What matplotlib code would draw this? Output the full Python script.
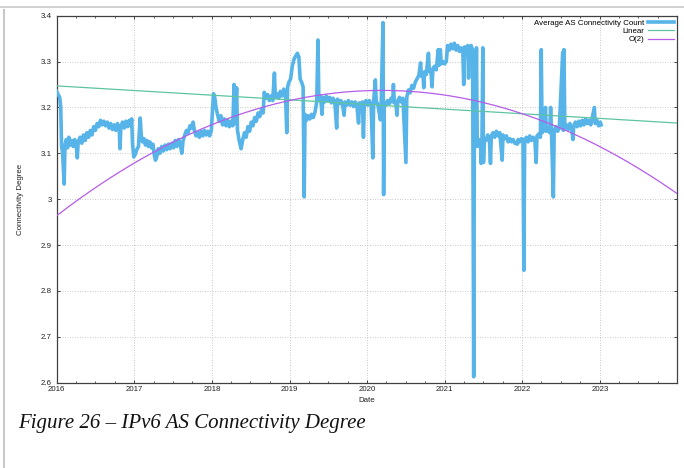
# IPv6 AS connectivity degree, gnuplot-style time series with linear and quadratic fits
import datetime as dt

import matplotlib
matplotlib.use("Agg")
import matplotlib.pyplot as plt
import matplotlib.dates as mdates
from matplotlib.lines import Line2D
from matplotlib.ticker import FuncFormatter, MultipleLocator
import numpy as np

plt.rcParams['font.family'] = ['Liberation Sans', 'DejaVu Sans']

# Average AS connectivity count (date, value), one list per year
y2016 = [("2016-01-01", 3.235), ("2016-01-08", 3.228), ("2016-01-15", 3.222), ("2016-01-20", 3.200),
         ("2016-01-24", 3.115), ("2016-01-29", 3.100), ("2016-02-05", 3.033), ("2016-02-09", 3.118),
         ("2016-02-15", 3.130), ("2016-02-21", 3.112), ("2016-02-27", 3.135), ("2016-03-05", 3.118),
         ("2016-03-12", 3.128), ("2016-03-19", 3.115), ("2016-03-26", 3.130), ("2016-04-03", 3.112),
         ("2016-04-07", 3.090), ("2016-04-11", 3.125), ("2016-04-20", 3.135), ("2016-04-28", 3.122),
         ("2016-05-06", 3.140), ("2016-05-14", 3.128), ("2016-05-22", 3.145), ("2016-05-30", 3.135),
         ("2016-06-07", 3.150), ("2016-06-15", 3.140), ("2016-06-23", 3.158), ("2016-07-01", 3.150),
         ("2016-07-09", 3.165), ("2016-07-17", 3.158), ("2016-07-25", 3.172), ("2016-08-02", 3.162),
         ("2016-08-10", 3.170), ("2016-08-18", 3.160), ("2016-08-26", 3.168), ("2016-09-03", 3.155),
         ("2016-09-11", 3.165), ("2016-09-19", 3.152), ("2016-09-27", 3.162), ("2016-10-05", 3.150),
         ("2016-10-13", 3.165), ("2016-10-21", 3.155), ("2016-10-25", 3.110), ("2016-10-29", 3.158),
         ("2016-11-06", 3.168), ("2016-11-14", 3.155), ("2016-11-22", 3.170), ("2016-11-30", 3.158),
         ("2016-12-08", 3.172), ("2016-12-15", 3.160), ("2016-12-19", 3.175), ("2016-12-23", 3.120),
         ("2016-12-29", 3.092)]

y2017 = [("2017-01-05", 3.098), ("2017-01-12", 3.108), ("2017-01-20", 3.115), ("2017-01-28", 3.177),
         ("2017-02-02", 3.140), ("2017-02-08", 3.125), ("2017-02-15", 3.132), ("2017-02-22", 3.118),
         ("2017-03-01", 3.128), ("2017-03-08", 3.115), ("2017-03-15", 3.125), ("2017-03-22", 3.112),
         ("2017-03-29", 3.120), ("2017-04-05", 3.095), ("2017-04-10", 3.085), ("2017-04-16", 3.092),
         ("2017-04-23", 3.110), ("2017-05-01", 3.100), ("2017-05-09", 3.115), ("2017-05-17", 3.105),
         ("2017-05-25", 3.118), ("2017-06-02", 3.108), ("2017-06-10", 3.120), ("2017-06-18", 3.110),
         ("2017-06-26", 3.122), ("2017-07-04", 3.112), ("2017-07-12", 3.128), ("2017-07-20", 3.115),
         ("2017-07-28", 3.130), ("2017-08-05", 3.120), ("2017-08-12", 3.100), ("2017-08-18", 3.128),
         ("2017-08-26", 3.140), ("2017-09-03", 3.150), ("2017-09-11", 3.145), ("2017-09-19", 3.160),
         ("2017-09-27", 3.155), ("2017-10-04", 3.168), ("2017-10-10", 3.150), ("2017-10-18", 3.138),
         ("2017-10-26", 3.145), ("2017-11-03", 3.135), ("2017-11-11", 3.148), ("2017-11-19", 3.138),
         ("2017-11-27", 3.150), ("2017-12-05", 3.140), ("2017-12-13", 3.148), ("2017-12-21", 3.138),
         ("2017-12-29", 3.150)]

y2018 = [("2018-01-08", 3.230), ("2018-01-14", 3.222), ("2018-01-20", 3.200), ("2018-01-27", 3.185),
         ("2018-02-04", 3.170), ("2018-02-12", 3.182), ("2018-02-20", 3.162), ("2018-02-28", 3.175),
         ("2018-03-08", 3.160), ("2018-03-16", 3.172), ("2018-03-24", 3.158), ("2018-04-01", 3.170),
         ("2018-04-09", 3.160), ("2018-04-15", 3.250), ("2018-04-19", 3.165), ("2018-04-27", 3.243),
         ("2018-05-01", 3.150), ("2018-05-09", 3.128), ("2018-05-18", 3.110), ("2018-05-26", 3.130),
         ("2018-06-03", 3.145), ("2018-06-11", 3.135), ("2018-06-19", 3.158), ("2018-06-27", 3.148),
         ("2018-07-05", 3.168), ("2018-07-13", 3.160), ("2018-07-21", 3.178), ("2018-07-29", 3.170),
         ("2018-08-06", 3.188), ("2018-08-14", 3.180), ("2018-08-22", 3.195), ("2018-08-30", 3.188),
         ("2018-09-04", 3.233), ("2018-09-12", 3.220), ("2018-09-20", 3.228), ("2018-09-28", 3.215),
         ("2018-10-06", 3.225), ("2018-10-14", 3.215), ("2018-10-22", 3.275), ("2018-10-26", 3.222),
         ("2018-11-03", 3.230), ("2018-11-11", 3.220), ("2018-11-19", 3.235), ("2018-11-27", 3.225),
         ("2018-12-05", 3.240), ("2018-12-13", 3.232), ("2018-12-19", 3.145), ("2018-12-23", 3.245),
         ("2018-12-29", 3.255)]

y2019 = [("2019-01-06", 3.262), ("2019-01-14", 3.290), ("2019-01-22", 3.305), ("2019-01-30", 3.312),
         ("2019-02-07", 3.318), ("2019-02-14", 3.310), ("2019-02-20", 3.262), ("2019-02-27", 3.255),
         ("2019-03-06", 3.245), ("2019-03-11", 3.005), ("2019-03-15", 3.185), ("2019-03-22", 3.172),
         ("2019-03-30", 3.182), ("2019-04-07", 3.175), ("2019-04-15", 3.185), ("2019-04-23", 3.178),
         ("2019-05-01", 3.190), ("2019-05-09", 3.212), ("2019-05-15", 3.347), ("2019-05-19", 3.218),
         ("2019-05-27", 3.225), ("2019-06-03", 3.185), ("2019-06-07", 3.222), ("2019-06-15", 3.212),
         ("2019-06-23", 3.225), ("2019-07-01", 3.215), ("2019-07-09", 3.222), ("2019-07-17", 3.210),
         ("2019-07-25", 3.220), ("2019-08-02", 3.212), ("2019-08-11", 3.155), ("2019-08-15", 3.218),
         ("2019-08-23", 3.208), ("2019-08-31", 3.215), ("2019-09-08", 3.205), ("2019-09-15", 3.183),
         ("2019-09-19", 3.212), ("2019-09-27", 3.205), ("2019-10-05", 3.215), ("2019-10-13", 3.205),
         ("2019-10-21", 3.212), ("2019-10-29", 3.202), ("2019-11-06", 3.212), ("2019-11-14", 3.205),
         ("2019-11-22", 3.166), ("2019-11-26", 3.210), ("2019-12-04", 3.202), ("2019-12-10", 3.212),
         ("2019-12-15", 3.135), ("2019-12-19", 3.208), ("2019-12-27", 3.215)]

y2020 = [("2020-01-04", 3.205), ("2020-01-12", 3.215), ("2020-01-20", 3.205), ("2020-01-28", 3.090),
         ("2020-02-01", 3.212), ("2020-02-09", 3.260), ("2020-02-13", 3.215), ("2020-02-21", 3.205),
         ("2020-03-04", 3.173), ("2020-03-08", 3.218), ("2020-03-16", 3.385), ("2020-03-19", 3.010),
         ("2020-03-22", 3.212), ("2020-03-30", 3.205), ("2020-04-07", 3.215), ("2020-04-15", 3.208),
         ("2020-04-23", 3.220), ("2020-05-01", 3.212), ("2020-05-04", 3.250), ("2020-05-08", 3.215),
         ("2020-05-16", 3.205), ("2020-05-21", 3.183), ("2020-05-25", 3.215), ("2020-06-02", 3.222),
         ("2020-06-10", 3.212), ("2020-06-18", 3.220), ("2020-07-02", 3.080), ("2020-07-06", 3.222),
         ("2020-07-14", 3.238), ("2020-07-22", 3.232), ("2020-07-30", 3.248), ("2020-08-07", 3.242),
         ("2020-08-15", 3.255), ("2020-08-23", 3.262), ("2020-09-01", 3.270), ("2020-09-09", 3.297),
         ("2020-09-13", 3.268), ("2020-09-20", 3.275), ("2020-09-24", 3.243), ("2020-09-28", 3.278),
         ("2020-10-06", 3.272), ("2020-10-16", 3.318), ("2020-10-20", 3.280), ("2020-10-28", 3.275),
         ("2020-11-02", 3.245), ("2020-11-06", 3.285), ("2020-11-14", 3.290), ("2020-11-22", 3.282),
         ("2020-12-01", 3.326), ("2020-12-05", 3.292), ("2020-12-11", 3.326), ("2020-12-15", 3.295),
         ("2020-12-23", 3.300), ("2020-12-31", 3.295)]

y2021 = [("2021-01-08", 3.300), ("2021-01-14", 3.335), ("2021-01-22", 3.325), ("2021-01-30", 3.338),
         ("2021-02-07", 3.328), ("2021-02-15", 3.340), ("2021-02-23", 3.325), ("2021-03-03", 3.335),
         ("2021-03-11", 3.322), ("2021-03-19", 3.330), ("2021-03-27", 3.320), ("2021-03-31", 3.250),
         ("2021-04-04", 3.332), ("2021-04-12", 3.322), ("2021-04-19", 3.335), ("2021-04-23", 3.264),
         ("2021-04-27", 3.330), ("2021-05-05", 3.335), ("2021-05-12", 3.325), ("2021-05-17", 2.613),
         ("2021-05-20", 3.120), ("2021-05-25", 3.130), ("2021-05-30", 3.330), ("2021-06-03", 3.115),
         ("2021-06-10", 3.130), ("2021-06-18", 3.125), ("2021-06-21", 3.078), ("2021-06-25", 3.128),
         ("2021-06-29", 3.330), ("2021-07-02", 3.080), ("2021-07-06", 3.132), ("2021-07-14", 3.128),
         ("2021-07-22", 3.140), ("2021-07-30", 3.130), ("2021-08-04", 3.078), ("2021-08-08", 3.138),
         ("2021-08-16", 3.145), ("2021-08-24", 3.135), ("2021-09-01", 3.148), ("2021-09-09", 3.138),
         ("2021-09-17", 3.145), ("2021-09-28", 3.085), ("2021-10-02", 3.140), ("2021-10-10", 3.132),
         ("2021-10-18", 3.138), ("2021-10-26", 3.125), ("2021-11-03", 3.132), ("2021-11-11", 3.125),
         ("2021-11-19", 3.130), ("2021-11-27", 3.122), ("2021-12-08", 3.120), ("2021-12-12", 3.130),
         ("2021-12-20", 3.125), ("2021-12-28", 3.132)]

y2022 = [("2022-01-04", 3.130), ("2022-01-08", 2.845), ("2022-01-12", 3.128), ("2022-01-20", 3.135),
         ("2022-01-28", 3.125), ("2022-02-05", 3.138), ("2022-02-13", 3.128), ("2022-02-21", 3.135),
         ("2022-03-01", 3.130), ("2022-03-07", 3.080), ("2022-03-11", 3.138), ("2022-03-19", 3.142),
         ("2022-03-27", 3.135), ("2022-03-31", 3.326), ("2022-04-04", 3.145), ("2022-04-12", 3.150),
         ("2022-04-20", 3.200), ("2022-04-24", 3.148), ("2022-05-02", 3.155), ("2022-05-10", 3.145),
         ("2022-05-14", 3.200), ("2022-05-18", 3.150), ("2022-05-27", 3.005), ("2022-05-31", 3.150),
         ("2022-06-08", 3.158), ("2022-06-16", 3.148), ("2022-06-24", 3.155), ("2022-07-10", 3.320),
         ("2022-07-13", 3.150), ("2022-07-16", 3.326), ("2022-07-20", 3.155), ("2022-07-28", 3.162),
         ("2022-08-05", 3.152), ("2022-08-13", 3.165), ("2022-08-21", 3.155), ("2022-08-27", 3.130),
         ("2022-08-31", 3.160), ("2022-09-08", 3.168), ("2022-09-16", 3.158), ("2022-09-24", 3.170),
         ("2022-10-02", 3.160), ("2022-10-10", 3.172), ("2022-10-18", 3.162), ("2022-10-26", 3.175),
         ("2022-11-03", 3.165), ("2022-11-11", 3.172), ("2022-11-19", 3.162), ("2022-12-06", 3.200),
         ("2022-12-10", 3.165), ("2022-12-18", 3.172), ("2022-12-26", 3.160), ("2023-01-03", 3.168),
         ("2023-01-07", 3.162)]

# fitted curves as drawn on the chart (t = years since 2016-01-01)
linear_coef = [-0.010125, 3.247]
quad_coef = [-0.01554, 0.1303, 2.964]

fit_start = dt.date(2016, 1, 1)
fit_end = dt.date(2024, 1, 1)

# --- build series ---
rows = y2016 + y2017 + y2018 + y2019 + y2020 + y2021 + y2022
dates = [dt.datetime.strptime(d, "%Y-%m-%d") for d, v in rows]
values = [v for d, v in rows]

x0 = mdates.date2num(fit_start)
x1 = mdates.date2num(fit_end)
xf = np.linspace(x0, x1, 300)
tf = (xf - x0) / 365.25

fig = plt.figure(figsize=(6.84, 4.68), dpi=100)
ax = fig.add_axes([56.7 / 684, 1 - 382.7 / 468, (677.3 - 56.7) / 684, (382.7 - 15.7) / 468])

ax.plot(dates, values, color='#56b4e9', lw=2.6, label='Average AS Connectivity Count', zorder=3)
ax.plot(xf, np.polyval(linear_coef, tf), color='#5ec4a0', lw=0.9, label='Linear', zorder=4)
ax.plot(xf, np.polyval(quad_coef, tf), color='#b55ce8', lw=0.9, label='O(2)', zorder=4)

# stop a hair before 2024 so no 2024 label is drawn (the reference has none)
ax.set_xlim(x0, x1 - 0.5)
ax.set_ylim(2.6, 3.4)

ax.xaxis.set_major_locator(mdates.YearLocator())
ax.xaxis.set_minor_locator(mdates.MonthLocator(bymonth=[4, 7, 10]))
ax.xaxis.set_major_formatter(mdates.DateFormatter('%Y'))
ax.yaxis.set_major_locator(MultipleLocator(0.1))
ax.yaxis.set_major_formatter(FuncFormatter(lambda v, p: '%g' % round(v, 2)))

ax.tick_params(which='both', direction='in', top=True, right=True,
               colors='#404040', labelcolor='#222222', labelsize=5.7)
ax.tick_params(which='major', length=2.5, width=0.7)
ax.tick_params(which='minor', length=1.6, width=0.6)
ax.tick_params(axis='x', pad=2.5)
ax.tick_params(axis='y', pad=3.5)

for s in ax.spines.values():
    s.set_color('#404040')
    s.set_linewidth(0.9)

ax.grid(which='major', color='#b8b8b8', linestyle=(0, (1, 2)), linewidth=0.6)

ax.set_xlabel('Date', fontsize=5.7, color='#222222')
ax.set_ylabel('Connectivity Degree', fontsize=5.7, color='#222222')
ax.xaxis.set_label_coords(0.5, -0.038)
ax.yaxis.set_label_coords(-0.053, 0.5)

ax.legend(loc='upper right', frameon=False, markerfirst=False, fontsize=5.7,
          handlelength=3.2, handletextpad=0.5, labelspacing=0.1,
          borderaxespad=0.25, borderpad=0.2)

# page rules and caption
fig.add_artist(Line2D([0, 1], [1 - 7 / 468] * 2, color='#c8c8c8', lw=1.2, transform=fig.transFigure))
fig.add_artist(Line2D([4 / 684] * 2, [0, 1 - 10 / 468], color='#c8c8c8', lw=1.5, transform=fig.transFigure))
fig.text(18 / 684, 1 - 428 / 468, 'Figure 26 \u2013 IPv6 AS Connectivity Degree',
         fontfamily='Liberation Serif', style='italic', fontsize=15, color='#111111', va='baseline')

fig.savefig('out.png', dpi=100)
